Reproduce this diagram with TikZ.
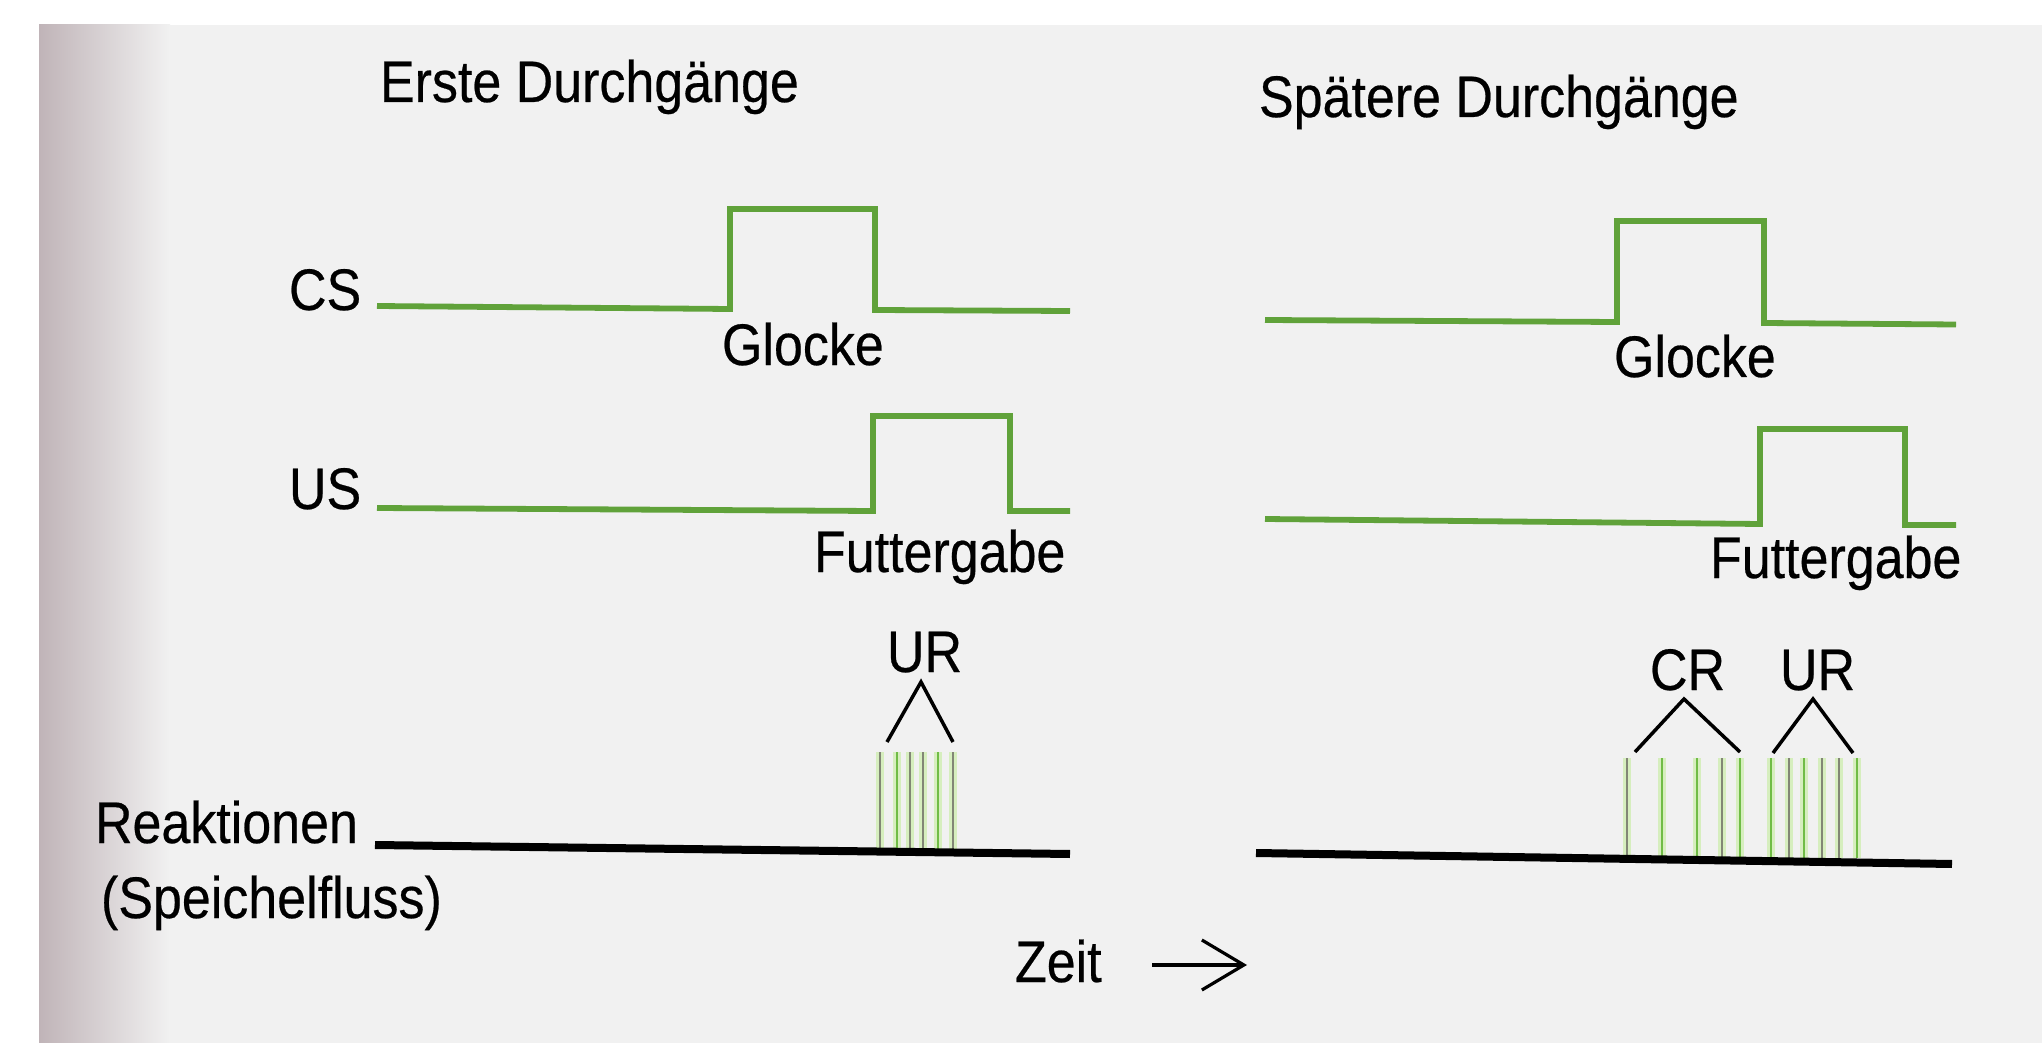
\documentclass[tikz,border=0pt]{standalone}
\usepackage{fontspec}
\setmainfont[FakeStretch=0.887, FakeBold=0.4]{Liberation Sans}
\usetikzlibrary{arrows.meta}
\definecolor{bgcol}{RGB}{241,241,241}
\definecolor{stripcol}{RGB}{192,180,184}
\definecolor{sigcol}{RGB}{96,162,58}
\definecolor{spkgreen}{RGB}{112,188,70}
\definecolor{spkgray}{RGB}{130,134,118}
\definecolor{spkhalo}{RGB}{214,238,190}
\begin{document}
\begin{tikzpicture}[x=0.5pt,y=-0.5pt,
  lbl/.style={anchor=base west, inner sep=0pt, outer sep=0pt, font=\fontsize{29.3}{34}\selectfont, text=black},
  signal/.style={draw=sigcol, line width=2.9pt, line join=miter},
  baseline/.style={draw=black, line width=4pt},
  caret/.style={draw=black, line width=1.75pt, line join=miter},
  spike/.style={line width=1.4pt},
  halo/.style={draw=spkhalo, line width=4pt}]
\useasboundingbox (0,0) rectangle (2042,1043);
% background
\fill[white] (0,0) rectangle (2042,1043);
\fill[bgcol] (39,25) rectangle (2042,1043);
\shade[left color=stripcol, right color=bgcol] (39,25) rectangle (170,1043);

% titles
\node[lbl] (t1) at (380,102) {Erste Durchgänge};
\node[lbl] (t2) at (1259,117) {Spätere Durchgänge};

% row labels
\node[lbl] (cs) at (289,310) {CS};
\node[lbl] (us) at (289,509) {US};
\node[lbl] (reak) at (95,843) {Reaktionen};
\node[lbl] (speich) at (101,918) {(Speichelfluss)};

% left panel signals
\draw[signal] (377,306) -- (730,309) -- (730,209) -- (875,209) -- (875,310) -- (1070,311);
\draw[signal] (377,508) -- (873,511) -- (873,416) -- (1010,416) -- (1010,511) -- (1070,511);
\node[lbl] (glo1) at (722,365) {Glocke};
\node[lbl] (fut1) at (814,572) {Futtergabe};

% right panel signals
\draw[signal] (1265,320) -- (1617,322) -- (1617,221) -- (1764,221) -- (1764,323) -- (1956,324.5);
\draw[signal] (1265,519) -- (1760,524) -- (1760,429) -- (1905,429) -- (1905,525) -- (1956,525);
\node[lbl] (glo2) at (1614,377) {Glocke};
\node[lbl] (fut2) at (1710,578) {Futtergabe};

% left responses
\foreach \xx in {880,897,910,923,938,953}
  \draw[halo] (\xx,752) -- (\xx,850);
\foreach \xx/\cc in {880/spkgray,897/spkgreen,910/spkgray,923/spkgray,938/spkgreen,953/spkgray}
  \draw[spike,draw=\cc] (\xx,752) -- (\xx,850);
\draw[baseline] (375,845) -- (1070,854);
\node[lbl] (ur1) at (887,672) {UR};
\draw[caret] (887,742) -- (921,682) -- (953,742);

% right responses
\foreach \xx in {1627,1662,1697,1722,1740,1771,1789,1804,1822,1839,1857}
  \draw[halo] (\xx,758) -- (\xx,858);
\foreach \xx/\cc in {1627/spkgray,1662/spkgreen,1697/spkgreen,1722/spkgray,1740/spkgreen,1771/spkgreen,1789/spkgray,1804/spkgreen,1822/spkgray,1839/spkgray,1857/spkgreen}
  \draw[spike,draw=\cc] (\xx,758) -- (\xx,858);
\draw[baseline] (1256,853) -- (1952,864);
\node[lbl] (cr2) at (1650,690) {CR};
\node[lbl] (ur2) at (1780,690) {UR};
\draw[caret] (1635,752) -- (1684,699) -- (1740,752);
\draw[caret] (1773,753) -- (1813,699) -- (1853,753);

% time axis
\node[lbl] (zeit) at (1015,982) {Zeit};
\coordinate (za) at (1152,965);
\coordinate (zb) at (1247,965);
\draw[line width=1.6pt, -{Straight Barb[length=21pt, width=25pt, line width=1.6pt]}] (za) -- (zb);
\end{tikzpicture}
\end{document}
